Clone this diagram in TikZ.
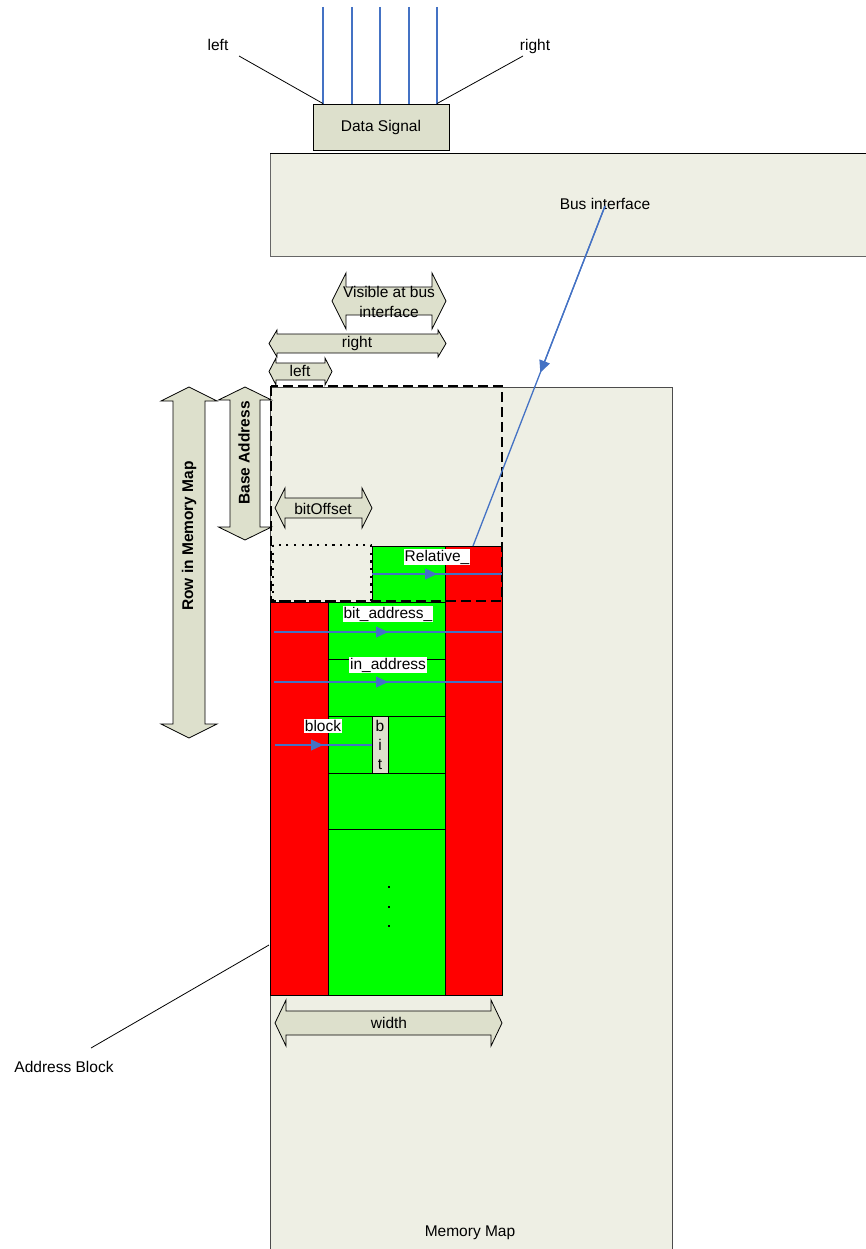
\documentclass[tikz,border=0pt]{standalone}
\usepackage{fontspec}
\setmainfont{Liberation Sans}
\usetikzlibrary{arrows.meta,calc}
\definecolor{mapfill}{RGB}{238,239,228}
\definecolor{arrfill}{RGB}{221,224,204}
\definecolor{bl}{RGB}{68,114,196}
\definecolor{rd}{RGB}{255,0,0}
\definecolor{gr}{RGB}{0,255,0}
% horizontal double block arrow: x1, x2, yc, body half, head half, head length
\newcommand{\hdblarrow}[6]{%
  \draw[arrsty] (#1,#3) -- (#1+#6,#3-#5) -- (#1+#6,#3-#4) -- (#2-#6,#3-#4) -- (#2-#6,#3-#5) -- (#2,#3)
    -- (#2-#6,#3+#5) -- (#2-#6,#3+#4) -- (#1+#6,#3+#4) -- (#1+#6,#3+#5) -- cycle;}
% vertical double block arrow: y1, y2, xc, body half, head half, head length
\newcommand{\vdblarrow}[6]{%
  \draw[arrsty] (#3,#1) -- (#3-#5,#1+#6) -- (#3-#4,#1+#6) -- (#3-#4,#2-#6) -- (#3-#5,#2-#6) -- (#3,#2)
    -- (#3+#5,#2-#6) -- (#3+#4,#2-#6) -- (#3+#4,#1+#6) -- (#3+#5,#1+#6) -- cycle;}
\begin{document}
\begin{tikzpicture}[x=1pt,y=-1pt,font=\fontsize{15.5}{19}\selectfont,
  arrsty/.style={draw=black, fill=arrfill, line width=0.8pt},
  lbl/.style={fill=white, inner sep=1pt},
  blu/.style={draw=bl, line width=1.3pt},
  bluarr/.style={draw=bl, fill=bl, line width=1.3pt, -{Triangle[length=12pt,width=11pt]}},
  cell/.style={draw=black, line width=0.9pt},
  thin/.style={draw=black, line width=0.8pt},
  vtxt/.style={rotate=90, font=\fontsize{15.5}{19}\selectfont\bfseries, inner sep=0pt}]
\useasboundingbox (0,0) rectangle (865,1249);

% Bus interface
\fill[mapfill] (270,153) rectangle (870,256);
\draw[black!60, line width=0.9pt] (870,256) -- (270,256) -- (270,153);
\draw[black, line width=0.9pt] (270,153) -- (870,153);
\node (bi) at (605,204) {Bus interface};

% Memory Map
\fill[mapfill] (270,387) rectangle (672,1249);
\draw[black!70, line width=0.9pt] (270,1249) -- (270,387) -- (672,387) -- (672,1249);
\node (mm) at (470,1233) {Memory Map};

% Data Signal
\node[draw, fill=arrfill, minimum width=136pt, minimum height=46pt, inner sep=0pt, line width=0.9pt] (ds) at (381,127) {Data Signal};
\foreach \i/\x in {1/323,2/352,3/380,4/409,5/437}{
  \coordinate (t\i) at (\x,7);
  \draw[blu] (t\i) -- (t\i |- ds.north);
}
\node (lft) at (218,45) {left};
\node (rgt) at (535,46) {right};
\coordinate (lfa) at (239,56);
\coordinate (rga) at (523,56);
\draw[thin] (lfa) -- (t1 |- ds.north);
\draw[thin] (rga) -- (t5 |- ds.north);

% Double block arrows
\hdblarrow{332}{446}{301}{14}{28}{14}
\node[align=center, inner sep=0pt] (vis) at (389,302) {Visible at bus\\[1pt]interface};
\hdblarrow{269}{446}{343.5}{9.5}{13.5}{8}
\node[inner sep=0pt] (rgtw) at (357,343) {right};
\hdblarrow{269}{332}{371.5}{8.5}{13.5}{7}
\node[inner sep=0pt] (lftw) at (300,371) {left};
\vdblarrow{387}{738}{189}{16}{28}{14}
\node[vtxt] (row) at (189,536) {Row in Memory Map};
\vdblarrow{387}{540}{245}{15}{26.5}{13}
\node[vtxt] (base) at (244,453) {Base Address};
\hdblarrow{275}{372}{508}{10}{20}{10}
\node[inner sep=0pt] (bof) at (323,509) {bitOffset};
\hdblarrow{275}{502}{1023}{12}{23}{11}
\node[inner sep=0pt] (wd) at (389,1023) {width};

% Blocks
\filldraw[cell, fill=gr] (372,546) rectangle (445,602);
\filldraw[cell, fill=rd] (445,546) rectangle (502,995);
\filldraw[cell, fill=rd] (270,602) rectangle (328,995);
\foreach \a/\b in {602/659,659/716,716/773,773/829,829/995}{
  \filldraw[cell, fill=gr] (328,\a) rectangle (445,\b);
}
\node[draw=black, line width=0.9pt, fill=arrfill, minimum width=16pt, minimum height=57pt, inner sep=0pt, align=center] (bitbox) at (380,744.5) {b\\i\\t};
\foreach \y in {887,907,926}{
  \fill[black] (388.2,\y-0.8) rectangle (389.8,\y+0.8);
}

% dashed and dotted frames
\draw[black, line width=2.4pt, dash pattern=on 10pt off 5pt] (271,386) rectangle (502,601);
\draw[black, line width=2.2pt, dash pattern=on 2.2pt off 5.5pt] (273,545) rectangle (371,601);

% blue arrows inside
\coordinate (r1) at (372,574); \coordinate (r2) at (502,574); \coordinate (r3) at (437,574);
\draw[blu] (r1) -- (r2); \draw[bluarr] (r1) -- (r3);
\coordinate (b1) at (274,632); \coordinate (b2) at (502,632); \coordinate (b3) at (388,632);
\draw[blu] (b1) -- (b2); \draw[bluarr] (b1) -- (b3);
\coordinate (i1) at (274,682); \coordinate (i2) at (502,682); \coordinate (i3) at (388,682);
\draw[blu] (i1) -- (i2); \draw[bluarr] (i1) -- (i3);
\coordinate (k1) at (275,745); \coordinate (k3) at (323,745);
\draw[blu] (k1) -- (bitbox.west |- k1); \draw[bluarr] (k1) -- (k3);

\node[lbl] (rel) at (437,557) {Relative\_};
\node[lbl] (bad) at (388,614) {bit\_address\_};
\node[lbl] (ina) at (388,665) {in\_address};
\node[lbl] (blk) at (323,726) {block};

% Bus interface connector
\coordinate (bs) at (605,206);
\coordinate (be) at (473,546);
\draw[blu] (bs) -- (be);
\draw[bluarr] (bs) -- ($(bs)!0.49!(be)$);

% Address Block
\node (ab) at (64,1067) {Address Block};
\coordinate (aba) at (91,1048);
\coordinate (abb) at (269,945);
\draw[thin] (aba) -- (abb);
\end{tikzpicture}
\end{document}
